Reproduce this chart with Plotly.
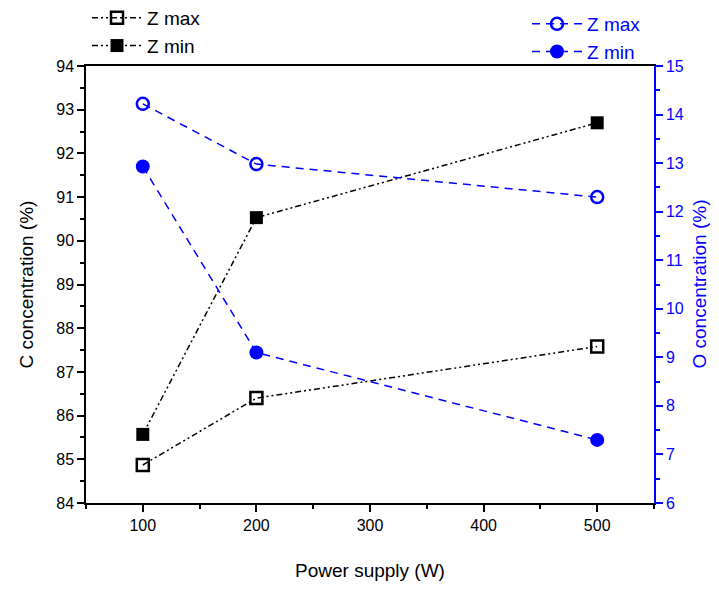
import plotly.graph_objects as go

power = [100, 200, 500]
c_zmax = [84.87, 86.40, 87.58]
c_zmin = [85.57, 90.53, 92.70]
o_zmax = [14.22, 12.98, 12.30]
o_zmin = [12.93, 9.10, 7.30]

BLUE = "#0000ff"
FONT = "Liberation Sans, Arial, sans-serif"
black_dash = "6px,3px,2px,3px,2px,3px"
blue_dash = "8px,6px"

W, H = 703, 584  # page body has an 8px margin
L, R, T, B = 78, 57, 58, 89

fig = go.Figure()
fig.add_trace(go.Scatter(x=power, y=c_zmax, name="Z max", mode="lines+markers",
                         line=dict(color="black", width=1.5, dash=black_dash),
                         marker=dict(symbol="square-open", size=12, color="black", line=dict(width=2.5)),
                         legend="legend"))
fig.add_trace(go.Scatter(x=power, y=c_zmin, name="Z min", mode="lines+markers",
                         line=dict(color="black", width=1.5, dash=black_dash),
                         marker=dict(symbol="square", size=13, color="black"),
                         legend="legend"))
fig.add_trace(go.Scatter(x=power, y=o_zmax, name="Z max", mode="lines+markers", yaxis="y2",
                         line=dict(color=BLUE, width=1.5, dash=blue_dash),
                         marker=dict(symbol="circle-open", size=12, color=BLUE, line=dict(width=2.5)),
                         legend="legend2"))
fig.add_trace(go.Scatter(x=power, y=o_zmin, name="Z min", mode="lines+markers", yaxis="y2",
                         line=dict(color=BLUE, width=1.5, dash=blue_dash),
                         marker=dict(symbol="circle", size=14, color=BLUE),
                         legend="legend2"))

pw = W - L - R
ph = H - T - B

fig.update_layout(
    width=W, height=H,
    margin=dict(l=L, r=R, t=T, b=B, autoexpand=False),
    paper_bgcolor="white", plot_bgcolor="white",
    font=dict(family=FONT, size=16, color="black"),
    xaxis=dict(range=[50, 550], tickmode="linear", tick0=100, dtick=100,
               ticks="outside", ticklen=7, tickwidth=1.5, tickcolor="black",
               minor=dict(dtick=50, tick0=50, ticks="outside", ticklen=4, tickwidth=1.5, tickcolor="black"),
               showline=True, linecolor="black", linewidth=1.5, mirror=True,
               showgrid=False, zeroline=False, automargin=False,
               tickfont=dict(size=16)),
    yaxis=dict(range=[84, 94], tickmode="linear", tick0=84, dtick=1,
               ticks="outside", ticklen=7, tickwidth=1.5, tickcolor="black",
               minor=dict(dtick=0.5, ticks="outside", ticklen=4, tickwidth=1.5, tickcolor="black"),
               showline=True, linecolor="black", linewidth=1.5,
               showgrid=False, zeroline=False, automargin=False,
               tickfont=dict(size=16)),
    yaxis2=dict(range=[6, 15], tickmode="linear", tick0=6, dtick=1, overlaying="y", side="right",
                ticks="outside", ticklen=7, tickwidth=1.5, tickcolor=BLUE,
                minor=dict(dtick=0.5, ticks="outside", ticklen=4, tickwidth=1.5, tickcolor=BLUE),
                showline=True, linecolor=BLUE, linewidth=1.5,
                showgrid=False, zeroline=False, automargin=False,
                tickfont=dict(size=16, color=BLUE)),
    legend=dict(xref="container", yref="paper", x=79 / W, y=1 + 67 / ph,
                xanchor="left", yanchor="top", bgcolor="rgba(0,0,0,0)",
                font=dict(size=19, color="black"), itemwidth=50, tracegroupgap=0),
    legend2=dict(xref="container", yref="paper", x=519 / W, y=1 + 61 / ph,
                 xanchor="left", yanchor="top", bgcolor="rgba(0,0,0,0)",
                 font=dict(size=19, color=BLUE), itemwidth=50, tracegroupgap=0),
    showlegend=True,
    annotations=[
        dict(text="Power supply (W)", xref="paper", yref="paper", x=0.5, y=-(570 - 503) / ph,
             xanchor="center", yanchor="middle", showarrow=False, font=dict(size=19, color="black")),
        dict(text="C concentration (%)", xref="paper", yref="paper", x=-(86 - 26) / pw, y=0.5,
             xanchor="center", yanchor="middle", textangle=-90, showarrow=False,
             font=dict(size=19, color="black")),
        dict(text="O concentration (%)", xref="paper", yref="paper", x=1 + (699 - 654) / pw, y=0.5,
             xanchor="center", yanchor="middle", textangle=-90, showarrow=False,
             font=dict(size=19, color=BLUE)),
    ],
)

fig.write_html("out.html")
